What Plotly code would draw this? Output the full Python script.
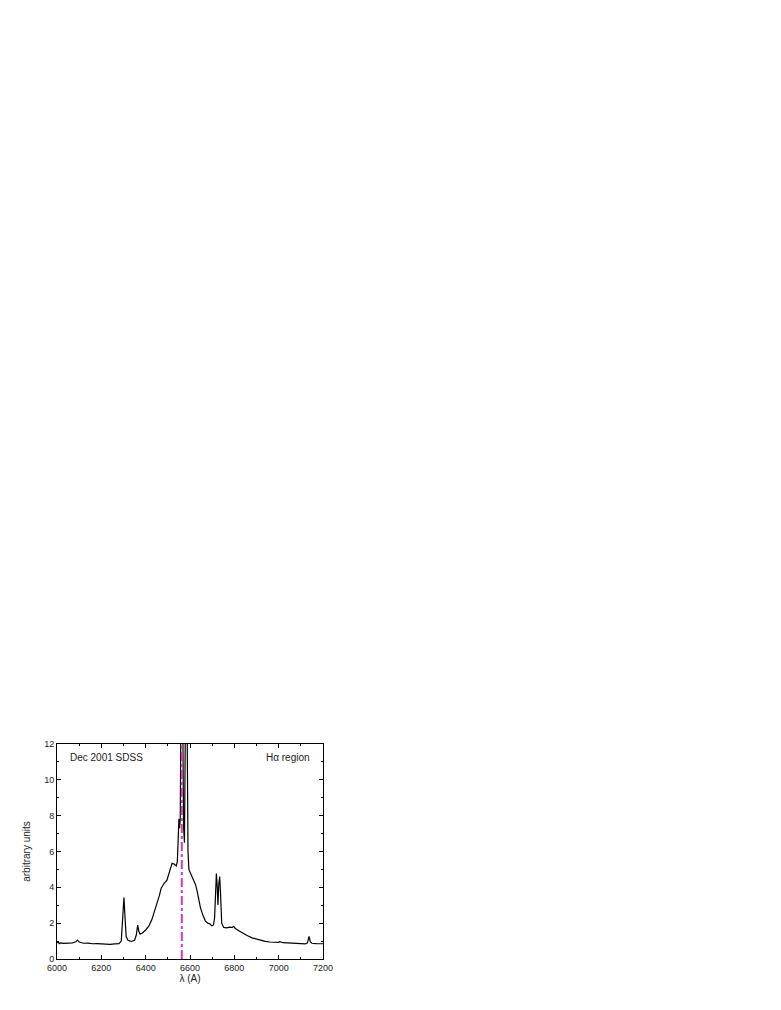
import plotly.graph_objects as go

# Spectrum (wavelength in A, flux in arbitrary units)
wavelength = [6000, 6005, 6010, 6015, 6030, 6050, 6070, 6085, 6092, 6100, 6120, 6140, 6160,
              6180, 6200, 6220, 6240, 6260, 6280, 6290, 6296, 6302, 6307, 6312, 6320, 6335,
              6350, 6358, 6364, 6369, 6375, 6385, 6400, 6415, 6428, 6440, 6451, 6462, 6470,
              6482, 6496, 6508, 6519, 6528, 6538, 6543, 6547, 6550, 6553, 6556, 6559, 6563,
              6567, 6571, 6575, 6579, 6583, 6587, 6591, 6595, 6600, 6608, 6617, 6625, 6632,
              6640, 6647, 6658, 6669, 6680, 6690, 6699, 6706, 6711, 6715, 6719, 6723, 6726,
              6730, 6734, 6738, 6743, 6752, 6765, 6780, 6790, 6797, 6805, 6820, 6840, 6860,
              6880, 6900, 6920, 6940, 6960, 6980, 7000, 7005, 7020, 7040, 7060, 7070, 7080,
              7100, 7120, 7130, 7137, 7143, 7150, 7170, 7200]
flux = [0.90, 0.95, 0.86, 0.90, 0.87, 0.88, 0.90, 0.96, 1.05, 0.95, 0.88, 0.89, 0.85,
        0.86, 0.84, 0.83, 0.82, 0.84, 0.86, 1.00, 2.00, 3.43, 2.30, 1.25, 1.05, 0.98,
        1.05, 1.35, 1.89, 1.55, 1.39, 1.45, 1.62, 1.85, 2.20, 2.65, 3.05, 3.55, 3.95,
        4.20, 4.40, 4.85, 5.34, 5.30, 5.19, 5.45, 7.20, 7.83, 7.30, 7.80, 14.0, 40.0,
        14.0, 7.40, 6.49, 13.0, 30.0, 13.0, 6.00, 5.00, 4.85, 4.70, 4.41, 4.15, 3.80,
        3.30, 2.87, 2.45, 2.13, 2.00, 1.95, 1.85, 1.90, 2.30, 4.20, 4.77, 4.00, 3.02,
        4.20, 4.60, 3.60, 2.00, 1.76, 1.74, 1.78, 1.76, 1.82, 1.70, 1.58, 1.42, 1.30,
        1.18, 1.10, 1.03, 0.98, 0.95, 0.93, 0.93, 0.97, 0.91, 0.90, 0.88, 0.91, 0.88,
        0.85, 0.84, 0.90, 1.26, 0.95, 0.88, 0.86, 0.85]

h_alpha = 6563

fig = go.Figure()
fig.add_trace(go.Scatter(
    x=wavelength, y=flux, mode='lines',
    line=dict(color='black', width=1.2),
    showlegend=False
))
fig.add_trace(go.Scatter(
    x=[h_alpha, h_alpha], y=[0, 12], mode='lines',
    line=dict(color='#e2379c', width=2, dash='dashdot'),
    showlegend=False
))

font_main = dict(family='Liberation Sans, Arial, sans-serif', size=9, color='#222222')
font_title = dict(family='Liberation Sans, Arial, sans-serif', size=10, color='#222222')

fig.add_annotation(x=0.04, y=0.97, xref='paper', yref='paper', text='Dec 2001 SDSS',
                   showarrow=False, xanchor='left', yanchor='top', font=font_title)
fig.add_annotation(x=0.96, y=0.97, xref='paper', yref='paper', text='H\u03b1 region',
                   showarrow=False, xanchor='right', yanchor='top', font=font_title)

axis_style = dict(
    showline=True, linecolor='black', linewidth=1, mirror='allticks',
    ticks='inside', ticklen=4, tickcolor='black', showgrid=False, zeroline=False,
    tickfont=font_main
)

fig.update_xaxes(range=[6000, 7200], dtick=200, tick0=6000,
                 minor=dict(dtick=100, ticks='inside', ticklen=2, tickcolor='black'),
                 title=dict(text='\u03bb (A)', font=font_title, standoff=0),
                 **axis_style)
fig.update_yaxes(range=[0, 12], dtick=2, tick0=0,
                 minor=dict(dtick=1, ticks='inside', ticklen=2, tickcolor='black'),
                 title=dict(text='arbitrary units', font=font_title, standoff=11),
                 **axis_style)

fig.update_layout(
    width=781, height=1010,
    margin=dict(l=49, r=466, t=736, b=59),
    plot_bgcolor='white', paper_bgcolor='white',
    font=font_main
)

fig.write_html("out.html")
